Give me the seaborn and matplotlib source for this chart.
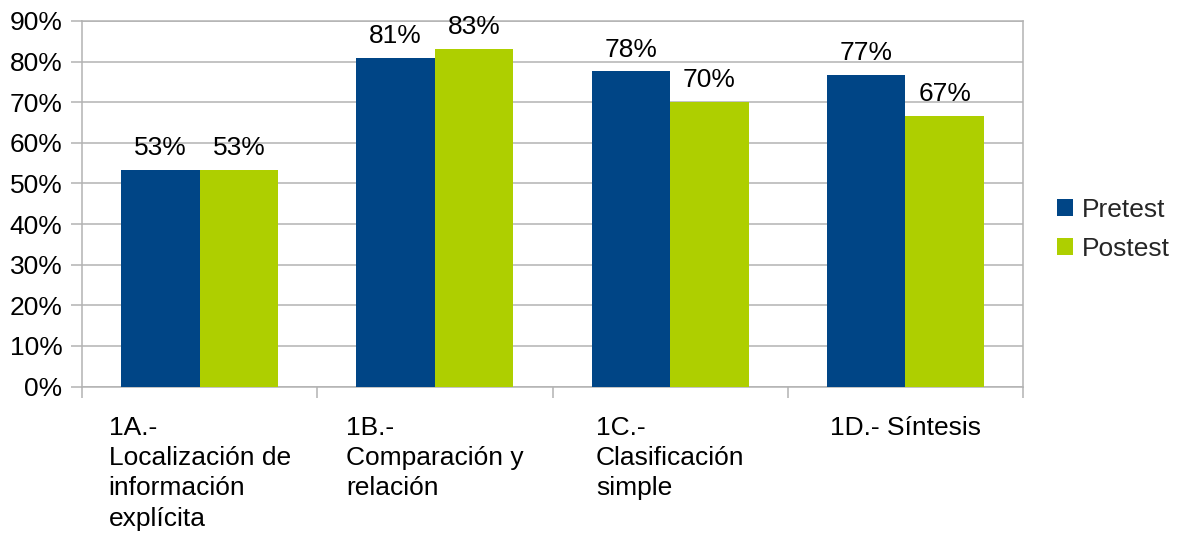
import matplotlib
matplotlib.use("Agg")
import matplotlib.pyplot as plt
from matplotlib.ticker import FuncFormatter, FixedLocator
import seaborn as sns
import pandas as pd

categories = [
    "1A.-\nLocalización de\ninformación\nexplícita",
    "1B.-\nComparación y\nrelación",
    "1C.-\nClasificación\nsimple",
    "1D.- Síntesis",
]
pretest = [53.3, 80.9, 77.6, 76.8]
postest = [53.3, 83.1, 70.1, 66.7]
series = ["Pretest", "Postest"]
y_ticks = [0, 10, 20, 30, 40, 50, 60, 70, 80, 90]

df = pd.DataFrame({
    "categoria": categories * 2,
    "serie": [series[0]] * len(categories) + [series[1]] * len(categories),
    "valor": pretest + postest,
})

sns.set_theme(style="white")
plt.rcParams["font.family"] = ["Liberation Sans", "DejaVu Sans"]

fs = 19
grid_col = "#b3b3b3"
fig = plt.figure(figsize=(11.77, 5.33), dpi=100)
ax = fig.add_axes([82 / 1177, 1 - 386.6 / 533, (1023 - 82) / 1177, (386.6 - 21) / 533])

sns.barplot(
    data=df, x="categoria", y="valor", hue="serie",
    palette=["#004586", "#aecf00"], width=0.667, saturation=1,
    edgecolor="none", linewidth=0, ax=ax, zorder=3,
)

ax.set_ylim(0, 90)
ax.set_xlim(-0.5, len(categories) - 0.5)
ax.yaxis.set_major_locator(FixedLocator(y_ticks))
ax.yaxis.set_major_formatter(FuncFormatter(lambda v, p: f"{v:.0f}%"))
ax.grid(axis="y", color=grid_col, linewidth=1.1, zorder=0)
ax.set_axisbelow(True)
for s in ax.spines.values():
    s.set_color(grid_col)
    s.set_linewidth(1.1)

ax.set_xlabel("")
ax.set_ylabel("")
ax.tick_params(axis="y", which="major", length=8, width=1.1, color=grid_col,
               labelsize=fs, labelcolor="black", pad=6, left=True)
ax.tick_params(axis="x", which="major", length=0, labelsize=fs,
               labelcolor="black", pad=21)
ax.set_xticks(range(len(categories)))
ax.set_xticklabels(categories, ha="center", multialignment="left", linespacing=1.33,
                   va="top")
ax.set_xticks([i - 0.5 for i in range(len(categories) + 1)], minor=True)
ax.tick_params(axis="x", which="minor", length=8, width=1.1, color=grid_col, bottom=True)

for cont in ax.containers:
    ax.bar_label(cont, labels=[f"{v:.0f}%" for v in cont.datavalues],
                 padding=7, fontsize=fs, color="black")

handles, labels = ax.get_legend_handles_labels()
ax.legend(handles, labels, loc="center left", bbox_to_anchor=(1.036, 0.43),
          frameon=False, fontsize=fs, handlelength=0.6, handleheight=0.6,
          handletextpad=0.35, labelspacing=0.56, borderpad=0, borderaxespad=0)

fig.savefig("out.png", dpi=100)
